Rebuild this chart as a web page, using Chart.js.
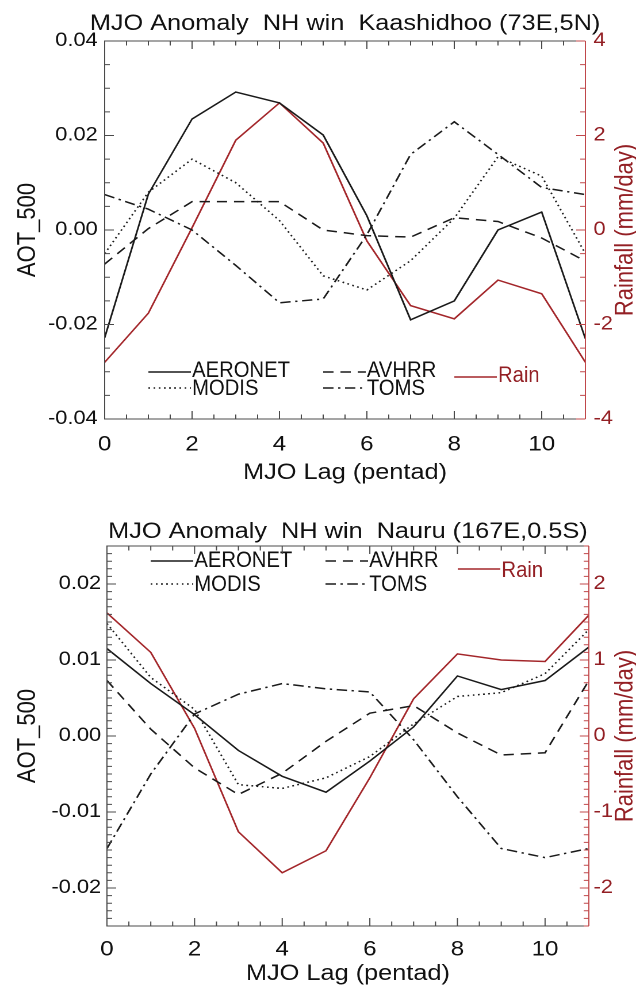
<!DOCTYPE html>
<html>
<head>
<meta charset="utf-8">
<title>MJO Anomaly</title>
<script src="https://cdn.jsdelivr.net/npm/chart.js@4.4.1/dist/chart.umd.min.js"></script>
<style>
  body { margin: 0; background: #fff; overflow: hidden; }
  /* the original figure is a little wider than tall, so draw narrow and stretch */
  .panel { position: absolute; left: 0; width: 553px; transform: scaleX(1.1501); transform-origin: 0 0; }
  #p1 { top: 0; height: 490px; }
  #p2 { top: 490px; height: 502px; }
</style>
</head>
<body>
<div class="panel" id="p1"><canvas id="kaashidhooChart"></canvas></div>
<div class="panel" id="p2"><canvas id="nauruChart"></canvas></div>
<script>
// MJO lag (pentad)
const lag = [0, 1, 2, 3, 4, 5, 6, 7, 8, 9, 10, 11];
const lagTicks = [0, 2, 4, 6, 8, 10];

// Kaashidhoo (73E,5N) - AOT_500 anomalies
const kAeronet = [-0.0228, 0.0076, 0.0235, 0.0292, 0.0269, 0.0201, 0.0030, -0.0190, -0.0150, 0.0000, 0.0038, -0.0230];
const kModis   = [-0.0050, 0.0080, 0.0150, 0.0100, 0.0020, -0.0097, -0.0127, -0.0065, 0.0025, 0.0155, 0.0114, -0.0050];
const kAvhrr   = [-0.0072, 0.0003, 0.0060, 0.0060, 0.0060, 0.0000, -0.0012, -0.0015, 0.0026, 0.0018, -0.0017, -0.0066];
const kToms    = [0.0075, 0.0044, 0.0000, -0.0075, -0.0154, -0.0146, -0.0010, 0.0160, 0.0229, 0.0160, 0.0090, 0.0075];
// rainfall anomaly (mm/day)
const kRain    = [-2.80, -1.76, 0.05, 1.90, 2.69, 1.84, -0.23, -1.60, -1.88, -1.06, -1.35, -2.80];
const kAotTicks  = [-0.04, -0.02, 0, 0.02, 0.04];
const kRainTicks = [-4, -2, 0, 2, 4];

// Nauru (167E,0.5S)
const nAeronet = [0.0115, 0.0069, 0.0028, -0.0019, -0.0053, -0.0074, -0.0033, 0.0012, 0.0079, 0.0061, 0.0073, 0.0117];
const nModis   = [0.0148, 0.0077, 0.0035, -0.0064, -0.0069, -0.0055, -0.0027, 0.0016, 0.0052, 0.0057, 0.0082, 0.0140];
const nAvhrr   = [0.0073, 0.0009, -0.0042, -0.0077, -0.0049, -0.0007, 0.0030, 0.0040, 0.0004, -0.0025, -0.0022, 0.0073];
const nToms    = [-0.0148, -0.0050, 0.0029, 0.0055, 0.0069, 0.0062, 0.0058, -0.0005, -0.0080, -0.0148, -0.0160, -0.0148];
const nRain    = [1.62, 1.10, 0.10, -1.26, -1.80, -1.51, -0.55, 0.49, 1.08, 1.00, 0.98, 1.59];
const nAotTicks  = [-0.02, -0.01, 0, 0.01, 0.02];
const nRainTicks = [-2, -1, 0, 1, 2];

const FONT = '"Liberation Sans", Arial, Helvetica, sans-serif';
const INK = '#1a1a1a';
const RED = '#a3262a';
const RED_TEXT = '#931f24';

Chart.defaults.font.family = FONT;

const pts = vals => lag.map((x, i) => ({ x: x, y: vals[i] }));
const fixTicks = list => s => { s.ticks = list.map(v => ({ value: v })); };

// frame + inward IDL-style tick marks, positions from the chart's scales
const frameTicks = {
    id: 'frameTicks',
    afterDraw(chart, args, o) {
        const { ctx, chartArea: a } = chart;
        const { x, y, y1 } = chart.scales;
        const isMajor = (s, v) => s.ticks.some(t => Math.abs(t.value - v) < 1e-9);
        const each = (s, step, fn) => {
            const n = Math.round((s.max - s.min) / step);
            for (let i = 0; i <= n; i++) fn(s.min + i * step);
        };
        ctx.save();
        ctx.lineWidth = 1;
        ctx.strokeStyle = '#4a4a4a';
        ctx.beginPath();
        ctx.moveTo(a.right, a.top); ctx.lineTo(a.left, a.top);
        ctx.lineTo(a.left, a.bottom); ctx.lineTo(a.right, a.bottom);
        each(x, o.xMinor, v => {
            const p = x.getPixelForValue(v);
            const len = isMajor(x, v) ? 8 : 4.5;
            ctx.moveTo(p, a.bottom); ctx.lineTo(p, a.bottom - len);
            ctx.moveTo(p, a.top); ctx.lineTo(p, a.top + len);
        });
        each(y, o.yMinor, v => {
            const p = y.getPixelForValue(v);
            const len = isMajor(y, v) ? 8 : 4.5;
            ctx.moveTo(a.left, p); ctx.lineTo(a.left + len, p);
        });
        ctx.stroke();

        ctx.strokeStyle = '#c0484b';
        ctx.beginPath();
        ctx.moveTo(a.right, a.top); ctx.lineTo(a.right, a.bottom);
        each(y1, o.y1Minor, v => {
            const p = y1.getPixelForValue(v);
            const len = isMajor(y1, v) ? 8 : 4.5;
            ctx.moveTo(a.right, p); ctx.lineTo(a.right - len, p);
        });
        ctx.stroke();
        ctx.restore();
    }
};

// panel title and the right-hand axis title (reads bottom to top)
const panelTitles = {
    id: 'panelTitles',
    afterDraw(chart, args, o) {
        const { ctx, chartArea: a } = chart;
        ctx.save();
        ctx.font = '22px ' + FONT;
        ctx.fillStyle = '#111';
        ctx.textAlign = 'center';
        ctx.textBaseline = 'alphabetic';
        ctx.fillText(o.text, (a.left + a.right) / 2, o.y);
        ctx.translate(o.rightX, (a.top + a.bottom) / 2);
        ctx.rotate(-Math.PI / 2);
        ctx.fillStyle = RED_TEXT;
        ctx.textBaseline = 'middle';
        ctx.fillText('Rainfall (mm/day)', 0, 0);
        ctx.restore();
    }
};

// in-plot legend, line samples taken from the datasets themselves
const mjoLegend = {
    id: 'mjoLegend',
    afterDatasetsDraw(chart, args, o) {
        const { ctx, chartArea: a } = chart;
        const ds = chart.data.datasets;
        const base = o.fromTop ? a.top : a.bottom;
        ctx.save();
        o.items.forEach(it => {
            const d = ds[it.index];
            const x0 = a.left + it.dx;
            const y0 = base + it.dy;
            ctx.strokeStyle = d.borderColor;
            ctx.lineWidth = d.borderWidth;
            ctx.setLineDash(d.borderDash || []);
            ctx.beginPath();
            ctx.moveTo(x0, y0);
            ctx.lineTo(x0 + 37, y0);
            ctx.stroke();
            ctx.setLineDash([]);
            ctx.save();
            ctx.translate(x0 + 38, y0 + (it.ty || 0));
            ctx.scale(0.8, 1);
            ctx.font = '22px ' + FONT;
            ctx.fillStyle = d.borderColor === RED ? RED_TEXT : '#111';
            ctx.textBaseline = 'middle';
            ctx.fillText(d.label, 0, 0);
            ctx.restore();
        });
        ctx.restore();
    }
};

function makeDatasets(aeronet, modis, avhrr, toms, rain) {
    const base = { borderColor: INK, borderWidth: 1.5, pointRadius: 0, tension: 0, fill: false, yAxisID: 'y' };
    return [
        Object.assign({}, base, { label: 'AERONET', data: pts(aeronet) }),
        Object.assign({}, base, { label: 'MODIS', data: pts(modis), borderDash: [1.5, 3] }),
        Object.assign({}, base, { label: 'AVHRR', data: pts(avhrr), borderDash: [9, 6] }),
        Object.assign({}, base, { label: 'TOMS', data: pts(toms), borderDash: [9, 4, 2, 4] }),
        Object.assign({}, base, { label: 'Rain', data: pts(rain), borderColor: RED, yAxisID: 'y1' })
    ];
}

function makeChart(id, p) {
    const ctx = document.getElementById(id)?.getContext('2d');
    if (!ctx) {
        console.warn('Canvas ' + id + ' not found');
        return null;
    }
    return new Chart(ctx, {
        type: 'line',
        data: { datasets: makeDatasets(p.aeronet, p.modis, p.avhrr, p.toms, p.rain) },
        options: {
            responsive: true,
            maintainAspectRatio: false,
            animation: false,
            devicePixelRatio: 2,
            layout: { padding: { top: p.top, left: 0, right: 0, bottom: 0 } },
            plugins: {
                legend: { display: false },
                title: { display: false },
                tooltip: { enabled: false },
                panelTitles: { text: p.title, y: p.titleY, rightX: 544 },
                frameTicks: { xMinor: 0.5, yMinor: p.yMinor, y1Minor: p.y1Minor },
                mjoLegend: { fromTop: p.legendFromTop, items: p.legend }
            },
            scales: {
                x: {
                    type: 'linear', position: 'bottom', min: 0, max: 11,
                    grid: { display: false, drawTicks: false },
                    border: { display: false },
                    afterBuildTicks: fixTicks(lagTicks),
                    ticks: { autoSkip: false, maxRotation: 0,
                             padding: p.xPad, color: '#111', font: { size: 21 } },
                    title: { display: true, text: 'MJO Lag (pentad)', color: '#111',
                             font: { size: 22 }, padding: { top: 0, bottom: p.xTitlePad } },
                    afterFit: s => { s.height = p.xHeight; }
                },
                y: {
                    type: 'linear', position: 'left', min: p.yMin, max: p.yMax,
                    grid: { display: false, drawTicks: false },
                    border: { display: false },
                    afterBuildTicks: fixTicks(p.yTicks),
                    ticks: { autoSkip: false, padding: p.yPad, color: '#111', font: { size: 19 },
                             callback: v => (Math.abs(v) < 1e-9 ? 0 : v).toFixed(2) },
                    title: { display: true, text: 'AOT_500', color: '#111',
                             font: { size: 22 }, padding: { top: 11, bottom: 0 } },
                    afterFit: s => { s.width = p.leftW; }
                },
                y1: {
                    type: 'linear', position: 'right', min: p.rMin, max: p.rMax,
                    grid: { display: false, drawTicks: false },
                    border: { display: false },
                    afterBuildTicks: fixTicks(p.rTicks),
                    ticks: { autoSkip: false, padding: p.rPad, color: RED_TEXT, font: { size: 19 },
                             callback: v => String(Math.round(v)) },
                    afterFit: s => { s.width = p.rightW; }
                }
            }
        },
        plugins: [frameTicks, panelTitles, mjoLegend]
    });
}

document.addEventListener('DOMContentLoaded', function() {
    try {
        makeChart('kaashidhooChart', {
            title: 'MJO Anomaly  NH win  Kaashidhoo (73E,5N)', titleY: 30,
            aeronet: kAeronet, modis: kModis, avhrr: kAvhrr, toms: kToms, rain: kRain,
            top: 41, xHeight: 71, leftW: 91, rightW: 44,
            xPad: 13, xTitlePad: 4, yPad: 6, rPad: 7,
            yMin: -0.04, yMax: 0.04, yTicks: kAotTicks, yMinor: 0.005,
            rMin: -4, rMax: 4, rTicks: kRainTicks, y1Minor: 0.5,
            legendFromTop: false,
            legend: [
                { index: 0, dx: 38, dy: -47, ty: -1 },
                { index: 1, dx: 38, dy: -31, ty: 1 },
                { index: 2, dx: 190, dy: -47, ty: -1 },
                { index: 3, dx: 190, dy: -31, ty: 1 },
                { index: 4, dx: 304, dy: -42, ty: -1 }
            ]
        });
        makeChart('nauruChart', {
            title: 'MJO Anomaly  NH win  Nauru (167E,0.5S)', titleY: 48,
            aeronet: nAeronet, modis: nModis, avhrr: nAvhrr, toms: nToms, rain: nRain,
            top: 56, xHeight: 66, leftW: 93, rightW: 41,
            xPad: 11, xTitlePad: 5, yPad: 5, rPad: 4,
            yMin: -0.025, yMax: 0.025, yTicks: nAotTicks, yMinor: 0.001,
            rMin: -2.5, rMax: 2.5, rTicks: nRainTicks, y1Minor: 0.1,
            legendFromTop: true,
            legend: [
                { index: 0, dx: 38, dy: 15, ty: 0 },
                { index: 1, dx: 38, dy: 38, ty: 1 },
                { index: 2, dx: 190, dy: 15, ty: 0 },
                { index: 3, dx: 190, dy: 38, ty: 1 },
                { index: 4, dx: 305, dy: 23, ty: 2 }
            ]
        });
    } catch (error) {
        console.error('Error initializing MJO charts:', error);
    }
});
</script>
</body>
</html>
